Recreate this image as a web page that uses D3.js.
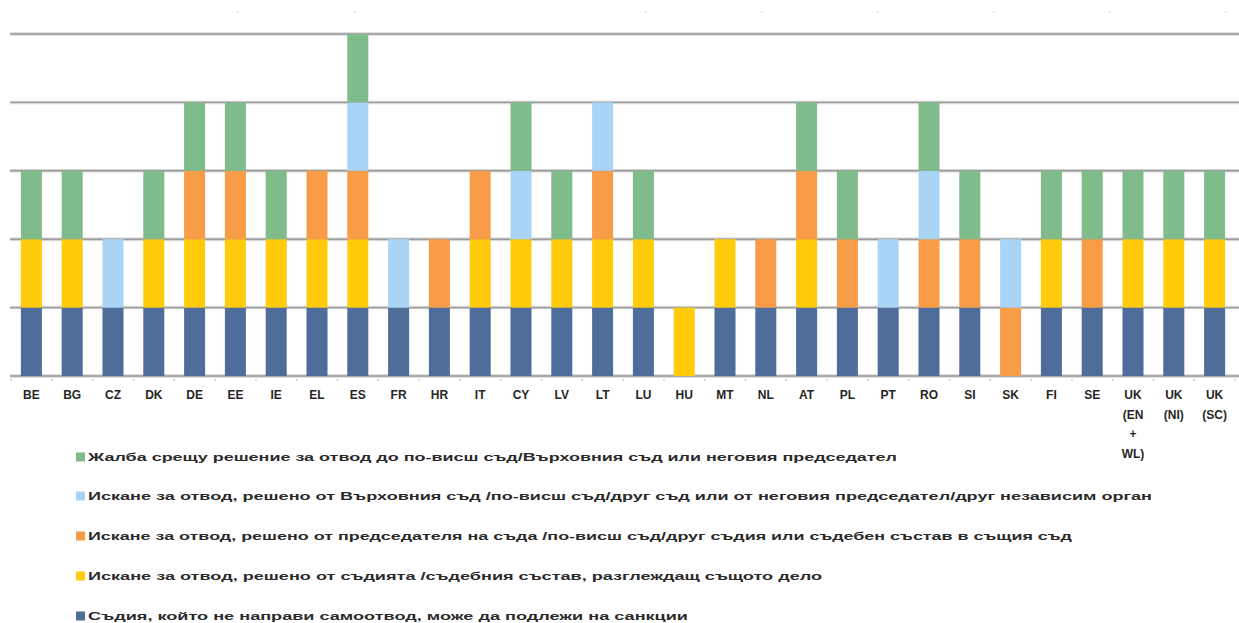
<!DOCTYPE html>
<html>
<head>
<meta charset="utf-8">
<script src="https://cdn.jsdelivr.net/npm/d3@7"></script>
<style>
  html, body { margin: 0; padding: 0; background: #fff; }
  svg { display: block; }
</style>
</head>
<body>
<svg id="chart" width="1239" height="623"></svg>
<script>
// Member states / jurisdictions on the x axis (line breaks split multi-line labels)
const categories = ["BE","BG","CZ","DK","DE","EE","IE","EL","ES","FR","HR","IT","CY","LV","LT","LU","HU","MT","NL","AT","PL","PT","RO","SI","SK","FI","SE","UK\n(EN\n+\nWL)","UK\n(NI)","UK\n(SC)"];

// One unit per applicable mechanism, stacked bottom to top
const sanctions   = [1,1,1,1,1,1,1,1,1,1,1,1,1,1,1,1,0,1,1,1,1,1,1,1,0,1,1,1,1,1];
const byJudge     = [1,1,0,1,1,1,1,1,1,0,0,1,1,1,1,1,1,1,0,1,0,0,0,0,0,1,0,1,1,1];
const byPresident = [0,0,0,0,1,1,0,1,1,0,1,1,0,0,1,0,0,0,1,1,1,0,1,1,1,0,1,0,0,0];
const bySupreme   = [0,0,1,0,0,0,0,0,1,1,0,0,1,0,1,0,0,0,0,0,0,1,1,0,1,0,0,0,0,0];
const appeal      = [1,1,0,1,1,1,1,0,1,0,0,0,1,1,0,1,0,0,0,1,1,0,1,1,0,1,1,1,1,1];

const yTicks = [0,1,2,3,4,5];

const seriesNames = [
  "Съдия, който не направи самоотвод, може да подлежи на санкции",
  "Искане за отвод, решено от съдията /съдебния състав, разглеждащ същото дело",
  "Искане за отвод, решено от председателя на съда /по-висш съд/друг съдия или съдебен състав в същия съд",
  "Искане за отвод, решено от Върховния съд /по-висш съд/друг съд или от неговия председател/друг независим орган",
  "Жалба срещу решение за отвод до по-висш съд/Върховния съд или неговия председател"
];
const seriesColors = ["#4f6d9b", "#ffcb0b", "#f99c48", "#a9d4f6", "#80bc8b"];
const seriesValues = [sanctions, byJudge, byPresident, bySupreme, appeal];

const keys = ["s0","s1","s2","s3","s4"];
const table = categories.map((c, i) => {
  const row = { cat: c };
  keys.forEach((k, j) => row[k] = seriesValues[j][i]);
  return row;
});

const svg = d3.select("#chart");
const font = "'Liberation Sans', Arial, sans-serif";

const x = d3.scaleBand()
  .domain(categories)
  .range([11, 1235])
  .paddingInner(0.485)
  .paddingOuter(0.2425);

const y = d3.scaleLinear().domain([0, 5]).range([376, 34]);

// Horizontal gridlines (including the baseline)
const grid = svg.append("g");
grid.selectAll("line.halo").data(yTicks).join("line")
  .attr("x1", 10).attr("x2", 1239)
  .attr("y1", d => y(d)).attr("y2", d => y(d))
  .attr("stroke", "#d6d6d6").attr("stroke-width", 3.5);
grid.selectAll("line.core").data(yTicks).join("line")
  .attr("x1", 10).attr("x2", 1239)
  .attr("y1", d => y(d)).attr("y2", d => y(d))
  .attr("stroke", "#9b9b9b").attr("stroke-width", 1.4);

// Stacked bars
const stacked = d3.stack().keys(keys)(table);
svg.append("g").selectAll("g").data(stacked).join("g")
  .attr("fill", (d, i) => seriesColors[i])
  .selectAll("rect").data(d => d).join("rect")
  .attr("x", d => x(d.data.cat))
  .attr("width", x.bandwidth())
  .attr("y", d => y(d[1]))
  .attr("height", d => y(d[0]) - y(d[1]));

// Small tick marks at category boundaries
const bounds = categories.map(c => x(c) - x.step() * x.paddingInner() / 2);
bounds.push(1235);
svg.append("g").selectAll("rect").data(bounds).join("rect")
  .attr("x", d => d - 0.5).attr("y", 379).attr("width", 1.2).attr("height", 1.6)
  .attr("fill", "#b0b0b0");

// Faint marks along the top edge
const topMarks = [237, 354, 645, 761, 877, 993, 1109, 1225];
svg.append("g").selectAll("rect").data(topMarks).join("rect")
  .attr("x", d => d).attr("y", 11).attr("width", 1.2).attr("height", 1.4)
  .attr("fill", "#c4c4c4");

// Category labels
const xLab = svg.append("g")
  .attr("font-family", font).attr("font-size", 12).attr("font-weight", "bold")
  .attr("fill", "#262626").attr("text-anchor", "middle");
xLab.selectAll("text").data(categories).join("text")
  .attr("x", d => x(d) + x.bandwidth() / 2)
  .attr("y", 399)
  .each(function(d) {
    const lines = d.split("\n");
    d3.select(this).selectAll("tspan").data(lines).join("tspan")
      .attr("x", x(d) + x.bandwidth() / 2)
      .attr("dy", (l, i) => i === 0 ? 0 : 19.5)
      .text(l => l);
  });

// Legend, top entry is the top series
const legendOrder = [4, 3, 2, 1, 0];
const legendY = [457, 496, 536, 576, 616];
const legendEnd = [897, 1152, 1072, 822, 688];
const leg = svg.append("g");
legendOrder.forEach((si, r) => {
  leg.append("rect")
    .attr("x", 76).attr("y", legendY[r] - 4.5).attr("width", 9).attr("height", 9)
    .attr("fill", seriesColors[si]);
  leg.append("text")
    .attr("x", 88).attr("y", legendY[r] + 4)
    .attr("font-family", font).attr("font-size", 11).attr("font-weight", "bold")
    .attr("fill", "#2a2a2a")
    .attr("textLength", legendEnd[r] - 88)
    .attr("lengthAdjust", "spacingAndGlyphs")
    .text(seriesNames[si]);
});
</script>
</body>
</html>
